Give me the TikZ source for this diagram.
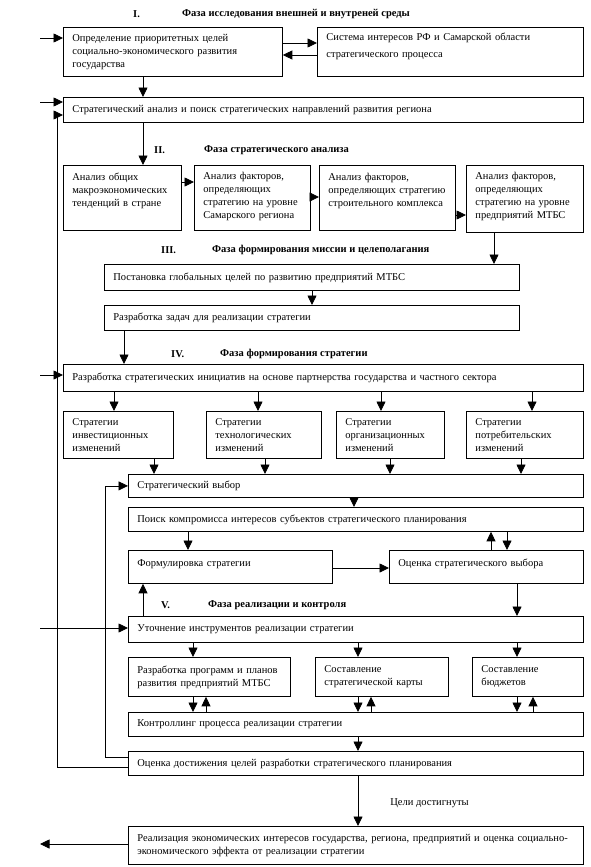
\documentclass[tikz,border=0pt]{standalone}
\usepackage{fontspec}
\setmainfont{Liberation Serif}
\usetikzlibrary{arrows.meta,calc}
\definecolor{ink}{HTML}{000000}
\tikzset{
  blk/.style={draw=ink, line width=0.8pt, anchor=north west, inner xsep=9pt, inner ysep=0pt, align=left, text=ink, font=\fontsize{10.5}{13}\selectfont},
  dims/.style n args={3}{minimum width=#1, minimum height=#2, text width=#3},
  topset/.style 2 args={text height=#1, text depth=#2},
  arr/.style={-{Triangle[length=9.5pt,width=9pt]}, line width=0.8pt, draw=ink},
  phase/.style={anchor=west, inner sep=0pt, text=ink, font=\bfseries\fontsize{10.5}{13}\selectfont},
  lab/.style={anchor=west, inner sep=0pt, text=ink, font=\fontsize{10.5}{13}\selectfont},
}

\begin{document}
\begin{tikzpicture}[x=1pt, y=-1pt]
  \useasboundingbox (0,0) rectangle (591,867);
  % phase headings
  \foreach \r/\xr/\xt/\y/\t [count=\i] in {I./133/182/14/Фаза исследования внешней и внутреней среды, II./154/204/150/Фаза стратегического анализа, III./161/212/250/Фаза формирования миссии и целеполагания, IV./171/220/354/Фаза формирования стратегии, V./161/208/605/Фаза реализации и контроля} {
    \node[phase] (num\i) at (\xr,\y) {\r};
    \node[phase] (phase\i) at (\xt,\y) {\t};
  }
  % phase I
  \node[blk, dims={219}{49}{201}] (goals) at (63,27) {Определение приоритетных целей\\социально-экономического развития\\государства};
  \node[blk, dims={266}{49}{248}, topset={13pt}{36pt}] (interests) at (317,27) {Система интересов РФ и Самарской области\\[4pt]стратегического процесса};
  \node[blk, dims={520}{25}{502}] (analysis) at (63,97) {Стратегический анализ и поиск стратегических направлений развития региона};
  % phase II
  \node[blk, dims={118}{65}{100}, topset={15pt}{50pt}] (macro) at (63,165) {Анализ общих\\макроэкономических\\тенденций в стране};
  \node[blk, dims={116}{65}{98}, topset={14pt}{51pt}] (regional) at (194,165) {Анализ факторов,\\определяющих\\стратегию на уровне\\Самарского региона};
  \node[blk, dims={136}{65}{118}, topset={15pt}{50pt}] (construct) at (319,165) {Анализ факторов,\\определяющих стратегию\\строительного комплекса};
  \node[blk, dims={117}{67}{99}, topset={14pt}{53pt}] (enterprise) at (466,165) {Анализ факторов,\\определяющих\\стратегию на уровне\\предприятий МТБС};
  % phase III
  \node[blk, dims={415}{26}{397}] (globalgoals) at (104,264) {Постановка глобальных целей по развитию предприятий МТБС};
  \node[blk, dims={415}{25}{397}] (tasks) at (104,305) {Разработка задач для реализации стратегии};
  % phase IV
  \node[blk, dims={520}{27}{502}] (initiatives) at (63,364) {Разработка стратегических инициатив на основе партнерства государства и частного сектора};
  \node[blk, dims={110}{47}{92}] (invest) at (63,411) {Стратегии\\инвестиционных\\изменений};
  \node[blk, dims={115}{47}{97}] (techno) at (206,411) {Стратегии\\технологических\\изменений};
  \node[blk, dims={108}{47}{90}] (organiz) at (336,411) {Стратегии\\организационных\\изменений};
  \node[blk, dims={117}{47}{99}] (consumer) at (466,411) {Стратегии\\потребительских\\изменений};
  \node[blk, dims={455}{23}{437}] (choice) at (128,474) {Стратегический выбор};
  \node[blk, dims={455}{24}{437}] (compromise) at (128,507) {Поиск компромисса интересов субъектов стратегического планирования};
  \node[blk, dims={204}{33}{186}, topset={16pt}{17pt}] (formul) at (128,550) {Формулировка стратегии};
  \node[blk, dims={194}{33}{176}, topset={16pt}{17pt}] (evaluate) at (389,550) {Оценка стратегического выбора};
  % phase V
  \node[blk, dims={455}{26}{437}] (tools) at (128,616) {Уточнение инструментов реализации стратегии};
  \node[blk, dims={162}{39}{144}] (programs) at (128,657) {Разработка программ и планов\\развития предприятий МТБС};
  \node[blk, dims={133}{39}{115}] (stratmap) at (315,657) {Составление\\стратегической карты};
  \node[blk, dims={111}{39}{93}] (budgets) at (472,657) {Составление\\бюджетов};
  \node[blk, dims={455}{24}{437}] (control) at (128,712) {Контроллинг процесса реализации стратегии};
  \node[blk, dims={455}{24}{437}] (achieve) at (128,751) {Оценка достижения целей разработки стратегического планирования};
  \node[blk, dims={455}{38}{437}] (realize) at (128,826) {Реализация экономических интересов государства, региона, предприятий и оценка социально-\\экономического эффекта от реализации стратегии};
  % arrows down
  \foreach \x/\a/\b in {143/goals/analysis, 143/analysis/macro, 494/enterprise/globalgoals, 312/globalgoals/tasks, 124/tasks/initiatives, 114/initiatives/invest, 258/initiatives/techno, 381/initiatives/organiz, 532/initiatives/consumer, 154/invest/choice, 265/techno/choice, 390/organiz/choice, 521/consumer/choice, 354/choice/compromise, 188/compromise/formul, 507/compromise/evaluate, 517/evaluate/tools, 193/tools/programs, 358/tools/stratmap, 517/tools/budgets, 193/programs/control, 358/stratmap/control, 517/budgets/control, 358/control/achieve}
    \draw[arr] (\x,0 |- \a.south) -- (\x,0 |- \b.north);
  % arrows up
  \foreach \x/\a/\b in {491/evaluate/compromise, 143/tools/formul, 206/control/programs, 371/control/stratmap, 533/control/budgets}
    \draw[arr] (\x,0 |- \a.north) -- (\x,0 |- \b.south);
  % arrows sideways
  \foreach \y/\a/\b in {43/goals/interests, 182/macro/regional, 197/regional/construct, 215/construct/enterprise, 568/formul/evaluate}
    \draw[arr] (\a.east |- 0,\y) -- (\b.west |- 0,\y);
  \draw[arr] (interests.west |- 0,55) -- (goals.east |- 0,55);
  % inputs from the left
  \foreach \y/\b in {38/goals, 102/analysis, 375/initiatives, 628/tools} {
    \coordinate (from\b) at (40,\y);
    \draw[arr] (from\b) -- (from\b -| \b.west);
  }
  % feedback loops
  \draw[arr] (achieve.west |- 0,757) -| (105,0 |- choice.west) -- (choice.west);
  \draw[arr] (achieve.west |- 0,767) -| (57,115) -- (analysis.west |- 0,115);
  % result
  \draw[arr] (358,0 |- achieve.south) -- node[lab, pos=0.55, xshift=32pt] (reached) {Цели достигнуты} (358,0 |- realize.north);
  \coordinate (exit) at (40,844);
  \draw[arr] (realize.west |- exit) -- (exit);
\end{tikzpicture}
\end{document}
